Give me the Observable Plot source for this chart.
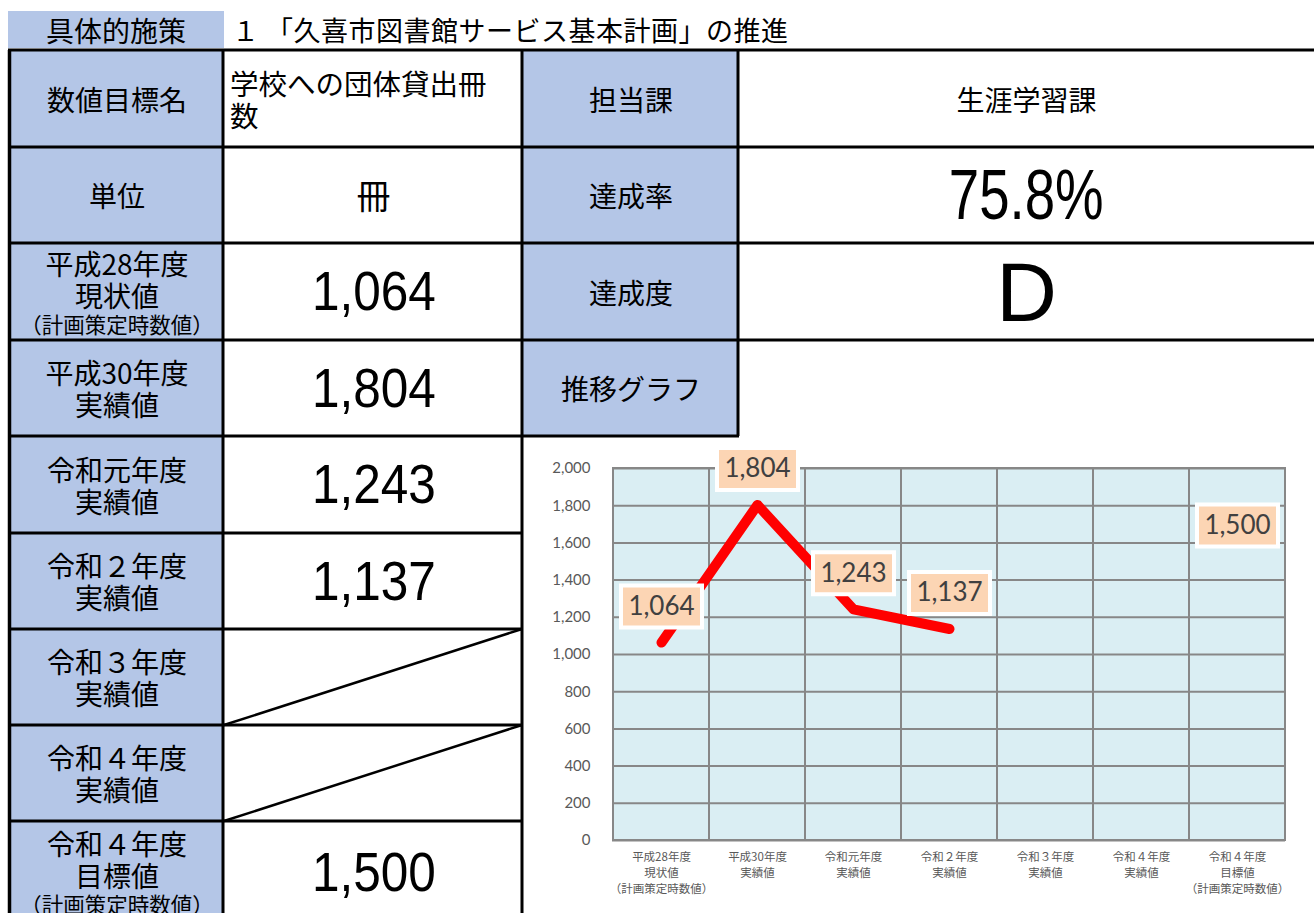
<!DOCTYPE html>
<html><head><meta charset="utf-8">
<script src="https://cdn.jsdelivr.net/npm/d3@7"></script>
<script src="https://cdn.jsdelivr.net/npm/@observablehq/plot@0.6"></script>
<style>
body{margin:0;background:#fff;}
#page{position:relative;width:1314px;height:913px;overflow:hidden;font-family:"Noto Sans CJK JP",sans-serif;color:#000;}
.cell{position:absolute;display:flex;flex-direction:column;align-items:center;justify-content:center;box-sizing:border-box;}
.blue{background:#B4C6E7;}
.num{font-family:"Liberation Sans",Arial,sans-serif;line-height:1;white-space:nowrap;}
.ln{line-height:32px;font-size:28px;white-space:nowrap;}
.sm{line-height:26px;font-size:21.5px;white-space:nowrap;}
</style></head><body><div id="page"></div>
<script>
// ---- data ----
const headerLabel = "具体的施策";
const headerText = "１ 「久喜市図書館サービス基本計画」の推進";
const rowLabels = [
  ["数値目標名"],
  ["単位"],
  ["平成28年度", "現状値", "（計画策定時数値）"],
  ["平成30年度", "実績値"],
  ["令和元年度", "実績値"],
  ["令和２年度", "実績値"],
  ["令和３年度", "実績値"],
  ["令和４年度", "実績値"],
  ["令和４年度", "目標値", "（計画策定時数値）"]
];
const targetName = ["学校への団体貸出冊", "数"];
const unitName = "冊";
const rightLabels = ["担当課", "達成率", "達成度", "推移グラフ"];
const rightValues = ["生涯学習課", "75.8%", "D", ""];
const categories = [
  "平成28年度\n現状値\n（計画策定時数値）",
  "平成30年度\n実績値",
  "令和元年度\n実績値",
  "令和２年度\n実績値",
  "令和３年度\n実績値",
  "令和４年度\n実績値",
  "令和４年度\n目標値\n（計画策定時数値）"
];
const values = [1064, 1804, 1243, 1137, null, null, 1500];
const yTicks = [0, 200, 400, 600, 800, 1000, 1200, 1400, 1600, 1800, 2000];

// ---- layout ----
const page = document.getElementById("page");
const R = [50, 147, 243, 340, 436, 533, 629, 725, 821, 923];
const XA = 10, XB = 224, XC = 523, XD = 739, XE = 1314;
const fmt = d3.format(",");

function cell(x, y, w, h, cls, html, extra) {
  const d = document.createElement("div");
  d.className = "cell " + (cls || "");
  Object.assign(d.style, {left: x + "px", top: y + "px", width: w + "px", height: h + "px"}, extra || {});
  d.innerHTML = html || "";
  page.appendChild(d);
  return d;
}
function lines(arr, size) {
  return arr.map(t => t.startsWith("（") ? `<div class="sm">${t}</div>` : `<div class="ln"${size ? ` style="font-size:${size}px"` : ""}>${t}</div>`).join("");
}
function num(v, size, sx) {
  return `<div class="num" style="font-size:${size}px;transform:scaleX(${sx})">${v}</div>`;
}

// header
cell(8, 11, 216, 37, "blue", `<div class="ln" style="font-size:28px">${headerLabel}</div>`);
cell(232, 11, 700, 37, "", `<div class="ln" style="font-size:27px;letter-spacing:0.5px">${headerText}</div>`, {alignItems: "flex-start"});

// left column labels
rowLabels.forEach((l, i) => cell(XA, R[i], XB - XA, R[i + 1] - R[i], "blue", lines(l)));

// column B
cell(XB, R[0], XC - XB, R[1] - R[0], "", lines(targetName, 28.5), {alignItems: "flex-start", paddingLeft: "6px"});
cell(XB, R[1], XC - XB, R[2] - R[1], "", `<div class="ln" style="font-size:34px">${unitName}</div>`);
values.forEach((v, i) => {
  if (v != null) cell(XB, R[i + 2], XC - XB, R[i + 3] - R[i + 2], "", num(fmt(v), 55, 0.9));
});

// column C / D
rightLabels.forEach((l, i) => cell(XC, R[i], XD - XC, R[i + 1] - R[i], "blue", lines([l])));
cell(XD, R[0], XE - XD, R[1] - R[0], "", lines([rightValues[0]]));
cell(XD, R[1], XE - XD, R[2] - R[1], "", num(rightValues[1], 70, 0.78));
cell(XD, R[2], XE - XD, R[3] - R[2], "", num(rightValues[2], 84, 1));

// grid lines + diagonals
const ns = "http://www.w3.org/2000/svg";
const ov = document.createElementNS(ns, "svg");
ov.setAttribute("width", 1314); ov.setAttribute("height", 913);
Object.assign(ov.style, {position: "absolute", left: 0, top: 0, pointerEvents: "none"});
function L(x1, y1, x2, y2, w) {
  const l = document.createElementNS(ns, "line");
  l.setAttribute("x1", x1); l.setAttribute("y1", y1); l.setAttribute("x2", x2); l.setAttribute("y2", y2);
  l.setAttribute("stroke", "#000"); l.setAttribute("stroke-width", w || 3);
  ov.appendChild(l);
}
[R[0], R[1], R[2], R[3]].forEach(y => L(8, y, XE, y));
L(8, R[4], XD, R[4]);
[R[5], R[6], R[7], R[8]].forEach(y => L(8, y, XC, y));
L(9.5, R[0], 9.5, 913, 3.5);
L(XB - 1, R[0], XB - 1, 913);
L(XC - 1, R[0], XC - 1, 913);
L(XD - 1, R[0], XD - 1, R[4]);
L(XB, R[7], XC - 1, R[6], 2.5);
L(XB, R[8], XC - 1, R[7], 2.5);
page.appendChild(ov);

// ---- chart ----
const data = categories.map((c, i) => ({cat: c, value: values[i], actual: i < 6}));
const labelData = data.filter(d => d.value != null);
const box = {draw(ctx) { ctx.rect(-40.5, -21, 81, 42); }};

const chart = Plot.plot({
  width: 791, height: 473,
  marginLeft: 89, marginRight: 29, marginTop: 28, marginBottom: 73,
  style: {background: "transparent", overflow: "visible", color: "#595959", fontFamily: "Lato, 'Noto Sans CJK JP', sans-serif"},
  x: {domain: categories, padding: 0, axis: null, label: null},
  y: {domain: [0, 2000], axis: null, label: null},
  marks: [
    Plot.barY(categories, {x: d => d, y1: () => 0, y2: () => 2000, fill: "#DAEEF3", stroke: "#878787", strokeWidth: 2}),
    Plot.ruleY(yTicks, {stroke: "#878787", strokeWidth: 2}),
    Plot.axisY({ticks: yTicks, tickSize: 0, tickPadding: 22, tickFormat: fmt, fontSize: 15, fill: "#595959", label: null}),
    Plot.axisX({tickSize: 0, tickPadding: 9, fontSize: 11.5, lineHeight: 1.39, fill: "#595959", fontFamily: "Noto Sans CJK JP", label: null}),
    Plot.line(data.filter(d => d.actual), {x: "cat", y: "value", stroke: "#FF0000", strokeWidth: 10, strokeLinecap: "round", strokeLinejoin: "round"}),
    Plot.dot(labelData, {x: "cat", y: "value", dy: -36, symbol: box, fill: "#FCD5B4", stroke: "#FFFFFF", strokeWidth: 4}),
    Plot.text(labelData, {x: "cat", y: "value", dy: -36, text: d => fmt(d.value), fontSize: 26, fill: "#404040", fontFamily: "Lato"})
  ]
});
const holder = document.createElement("div");
Object.assign(holder.style, {position: "absolute", left: "523px", top: "440px"});
holder.appendChild(chart);
page.appendChild(holder);
</script>
</body></html>
